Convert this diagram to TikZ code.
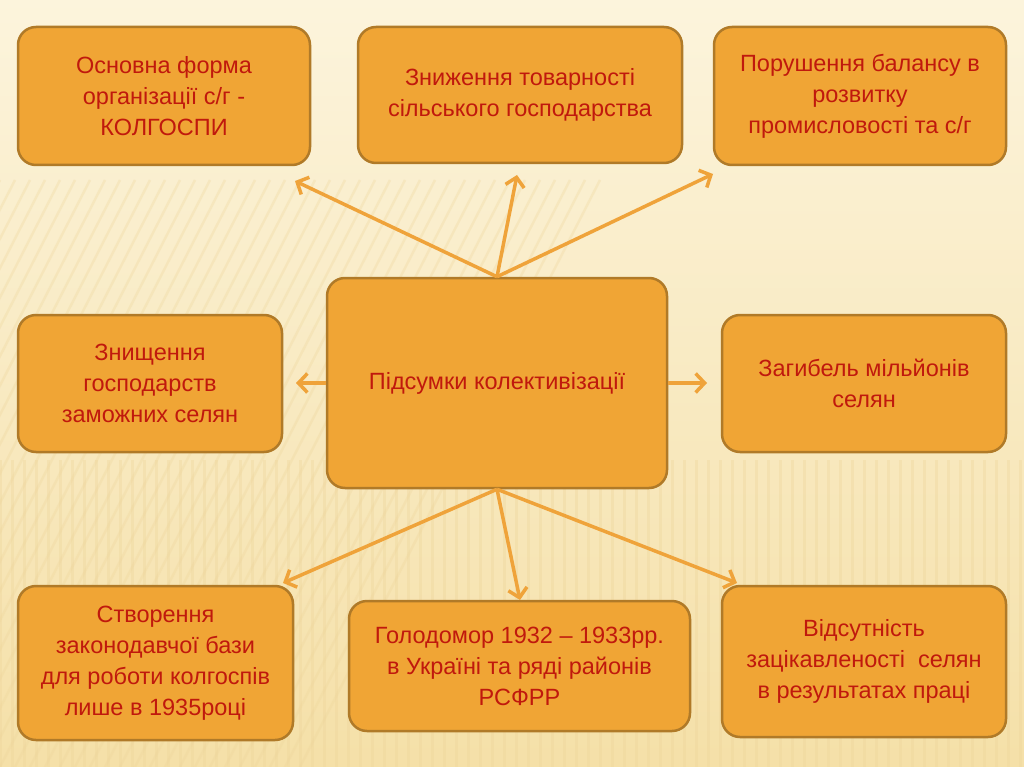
\documentclass[tikz,border=0pt]{standalone}
\usepackage{fontspec}
\setmainfont{Liberation Sans}
\usetikzlibrary{arrows.meta}

\definecolor{boxfill}{HTML}{F0A535}
\definecolor{boxline}{HTML}{B07A28}
\definecolor{boxtext}{HTML}{C0190D}
\definecolor{arrowcol}{HTML}{EFA33A}
\definecolor{bgtop}{HTML}{FCF4DC}
\definecolor{bgbot}{HTML}{F5E0A8}
\definecolor{stripe}{HTML}{EED59A}

\tikzset{resbox/.style={draw=boxline, fill=boxfill, line width=2.5pt,
                        rounded corners=18pt, text=boxtext, align=center,
                        font=\fontsize{23.5}{31}\selectfont, inner sep=0pt}
        }

\tikzset{resarrow/.style={draw=arrowcol, line width=3.5pt,
                          -{Straight Barb[length=9pt, width=19pt]}}
        }

\begin{document}
\begin{tikzpicture}[x=1pt, y=-1pt]

\def\pagew{1024}
\def\pageh{767}

%background
\useasboundingbox (0,0) rectangle (\pagew,\pageh);
\begin{scope}
\clip (0,0) rectangle (\pagew,\pageh);
\shade[top color=bgtop, bottom color=bgbot] (0,0) rectangle (\pagew,\pageh);
\foreach \xs in {0,12,...,1020}
  \draw[stripe, line width=3pt, opacity=0.35] (\xs,460) -- (\xs,\pageh);
\foreach \xs in {-300,-285,...,300}
  \draw[stripe, line width=2.5pt, opacity=0.3] (\xs,\pageh) -- (\xs+300,180);
\end{scope}

%boxes
\node[resbox, minimum width=292pt, minimum height=138pt] (form) at (164,96)
     {Основна форма\\організації с/г -\\КОЛГОСПИ};
\node[resbox, minimum width=324pt, minimum height=136pt] (market) at (520,95)
     {Зниження товарності\\сільського господарства};
\node[resbox, minimum width=292pt, minimum height=138pt] (balance) at (860,96)
     {Порушення балансу в\\розвитку\\промисловості та с/г};

\node[resbox, minimum width=264pt, minimum height=137pt] (kulaks) at (150,383.5)
     {Знищення\\господарств\\заможних селян};
\node[resbox, minimum width=340pt, minimum height=210pt] (sum) at (497,383)
     {Підсумки колективізації};
\node[resbox, minimum width=284pt, minimum height=137pt] (death) at (864,383.5)
     {Загибель мільйонів\\селян};

\node[resbox, minimum width=275pt, minimum height=154pt] (law) at (155.5,663)
     {Створення\\законодавчої бази\\для роботи колгоспів\\лише в 1935році};
\node[resbox, minimum width=341pt, minimum height=130pt] (famine) at (519.5,666)
     {Голодомор 1932 – 1933рр.\\в Україні та ряді районів\\РСФРР};
\node[resbox, minimum width=284pt, minimum height=151pt] (interest) at (864,661.5)
     {Відсутність\\зацікавленості~ селян\\в результатах праці};

%arrow tips
\coordinate (tform)     at (295,181);
\coordinate (tmarket)   at (517,175);
\coordinate (tbalance)  at (713,174);
\coordinate (tkulaks)   at (296,383);
\coordinate (tdeath)    at (707,383);
\coordinate (tlaw)      at (283,583);
\coordinate (tfamine)   at (520,600);
\coordinate (tinterest) at (737,583);

%arrows up
\draw[resarrow] (sum.north) -- (tform);
\draw[resarrow] (sum.north) -- (tmarket);
\draw[resarrow] (sum.north) -- (tbalance);

%arrows to the sides
\draw[resarrow] (sum.west) -- (tkulaks);
\draw[resarrow] (sum.east) -- (tdeath);

%arrows down
\draw[resarrow] (sum.south) -- (tlaw);
\draw[resarrow] (sum.south) -- (tfamine);
\draw[resarrow] (sum.south) -- (tinterest);

\end{tikzpicture}
\end{document}
